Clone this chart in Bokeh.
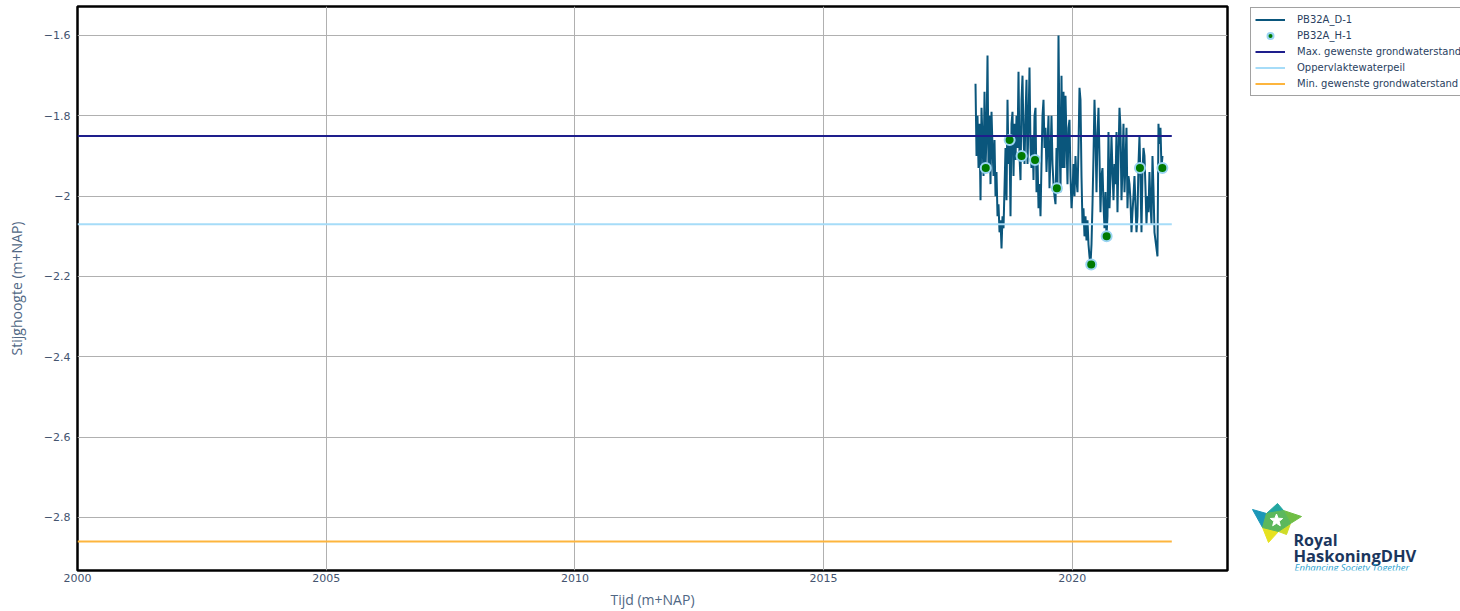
import numpy as np
from bokeh.plotting import figure
from bokeh.models import Range1d, FixedTicker, Legend, LegendItem
from bokeh.layouts import row
from bokeh.embed import file_html
from bokeh.resources import INLINE
from bokeh.core.properties import value

# ---------------- data ----------------
d1_label = "PB32A_D-1"
h1_label = "PB32A_H-1"
max_label = "Max. gewenste grondwaterstand"
opp_label = "Oppervlaktewaterpeil"
min_label = "Min. gewenste grondwaterstand"

# logger series (regular readings, decimal years)
d1_start_year = 2018.054
d1_step_years = 0.0201
d1_values = [
    -1.72, -1.90, -1.80, -1.93, -1.82, -2.01, -1.78, -1.86, -1.95, -1.74,
    -1.93, -1.85, -1.65, -1.94, -1.80, -1.97, -1.79, -1.88, -1.95, -1.86,
    -2.00, -1.94, -2.05, -2.02, -2.09, -2.06, -2.13, -2.05, -2.08, -1.98,
    -1.88, -2.01, -1.76, -1.92, -1.86, -2.05, -1.82, -1.79, -1.95, -1.82,
    -1.91, -1.80, -1.88, -1.69, -1.90, -1.96, -1.76, -1.70, -1.85, -1.92,
    -1.80, -1.71, -1.92, -1.82, -1.68, -1.88, -1.93, -1.85, -1.96, -1.80,
    -1.78, -1.99, -1.90, -2.03, -1.97, -2.05, -1.92, -1.80, -1.76, -1.88,
    -1.83, -1.94, -1.87, -1.80, -1.98, -1.90, -1.80, -1.92, -1.97, -2.00,
    -2.02, -1.88, -1.97, -1.60, -1.85, -1.99, -1.70, -1.93, -1.74, -1.93,
    -1.75, -1.86, -1.97, -1.83, -1.81, -1.95, -2.03, -1.99, -1.92, -2.00,
    -1.90, -1.96, -1.99, -1.88, -1.73, -1.76, -1.95, -2.07, -2.03, -2.10,
    -2.05, -2.11, -2.06, -2.12, -2.15, -2.17, -2.12, -2.02, -1.90, -1.76,
    -1.85, -1.99, -1.85, -1.78, -1.90, -2.04, -1.95, -1.93, -2.02, -2.08,
    -1.99, -2.10, -2.05, -1.84, -2.03, -1.95, -1.85, -1.94, -2.01, -1.92,
    -1.97, -1.84, -2.04, -1.90, -1.78, -1.83, -2.01, -1.93, -1.82, -1.99,
    -1.92, -1.83, -2.03, -1.95, -1.97, -2.01, -2.09, -2.04, -2.00, -1.95,
    -2.02, -2.09, -2.05, -1.92, -1.85, -1.96, -2.09, -1.94, -1.88, -1.90,
    -1.98, -2.07, -2.00, -2.04, -1.94, -2.02, -2.07, -1.90, -1.98, -2.09,
    -2.11, -2.13, -2.15, -1.82, -1.87, -1.83, -1.93, -1.90,
]

# hand measurements
h1_years = [2018.26, 2018.74, 2018.98, 2019.25, 2019.69, 2020.38, 2020.69, 2021.36, 2021.81]
h1_values = [-1.93, -1.86, -1.90, -1.91, -1.98, -2.17, -2.10, -1.93, -1.93]

# reference levels
ref_years = [2000, 2022]
max_level = -1.85
opp_level = -2.07
min_level = -2.86

x_tick_values = [2000, 2005, 2010, 2015, 2020]
x_tick_labels = ["2000", "2005", "2010", "2015", "2020"]
y_tick_values = [-2.8, -2.6, -2.4, -2.2, -2.0, -1.8, -1.6]
y_tick_labels = ["\u22122.8", "\u22122.6", "\u22122.4", "\u22122.2", "\u22122", "\u22121.8", "\u22121.6"]

x_title = "Tijd (m+NAP)"
y_title = "Stijghoogte (m+NAP)"

# ---------------- styles ----------------
D1_COLOR = "#0a567c"
H1_FILL = "#007a00"
H1_LINE = "#9ad4f2"
MAX_COLOR = "#1e1e8c"
OPP_COLOR = "#a6dcf8"
MIN_COLOR = "#fdb53e"
TICK_COLOR = "#44546f"
TITLE_COLOR = "#506784"

d1_years = d1_start_year + np.arange(len(d1_values)) * d1_step_years

BORDER_TOP = 6
BORDER_BOTTOM = 41

# ---------------- main figure ----------------
p = figure(width=1249, height=611,
           x_range=Range1d(2000, 2023.12), y_range=Range1d(-2.932, -1.5278),
           output_backend="svg", toolbar_location=None,
           min_border_left=77, min_border_right=22,
           min_border_top=BORDER_TOP, min_border_bottom=BORDER_BOTTOM)
p.background_fill_color = "white"
p.border_fill_color = "white"
p.outline_line_color = "black"
p.outline_line_width = 2.5

p.line(d1_years, d1_values, line_color=D1_COLOR, line_width=2)
p.scatter(h1_years, h1_values, size=10, fill_color=H1_FILL, line_color=H1_LINE, line_width=2)
p.line(ref_years, [max_level, max_level], line_color=MAX_COLOR, line_width=2)
p.line(ref_years, [opp_level, opp_level], line_color=OPP_COLOR, line_width=2)
p.line(ref_years, [min_level, min_level], line_color=MIN_COLOR, line_width=2)

p.xaxis.ticker = FixedTicker(ticks=x_tick_values)
p.xaxis.major_label_overrides = dict(zip(x_tick_values, x_tick_labels))
p.yaxis.ticker = FixedTicker(ticks=y_tick_values)
p.yaxis.major_label_overrides = dict(zip(y_tick_values, y_tick_labels))
p.xgrid.ticker = FixedTicker(ticks=x_tick_values)
p.ygrid.ticker = FixedTicker(ticks=y_tick_values)
p.grid.grid_line_color = "#b0b0b0"
p.grid.grid_line_width = 1

for ax in (p.xaxis, p.yaxis):
    ax.axis_line_color = None
    ax.major_tick_line_color = None
    ax.minor_tick_line_color = None
    ax.major_tick_out = 0
    ax.major_tick_in = 0
    ax.minor_tick_out = 0
    ax.minor_tick_in = 0
    ax.major_label_text_font = "DejaVu Sans"
    ax.major_label_text_font_size = "11px"
    ax.major_label_text_color = TICK_COLOR
    ax.axis_label_text_font = "Open Sans"
    ax.axis_label_text_font_size = "14px"
    ax.axis_label_text_font_style = "normal"
    ax.axis_label_text_color = TITLE_COLOR

p.xaxis.axis_label = x_title
p.yaxis.axis_label = y_title
p.xaxis.major_label_standoff = 3
p.xaxis.axis_label_standoff = 5
p.yaxis.major_label_standoff = 7
p.yaxis.axis_label_standoff = 15

# ---------------- side panel: legend + logo (page-pixel coordinates) ----------------
s = figure(width=211, height=611, x_range=Range1d(1249, 1460), y_range=Range1d(570, 6),
           output_backend="svg", toolbar_location=None,
           min_border_left=0, min_border_right=0,
           min_border_top=BORDER_TOP, min_border_bottom=BORDER_BOTTOM,
           x_axis_type=None, y_axis_type=None)
s.outline_line_color = None
s.background_fill_color = "white"
s.border_fill_color = "white"

# legend renderers re-use the same data (falls outside this panel's ranges)
l_d1 = s.line(d1_years, d1_values, line_color=D1_COLOR, line_width=2)
l_h1 = s.scatter(h1_years, h1_values, size=10, fill_color=H1_FILL, line_color=H1_LINE, line_width=2)
l_max = s.line(ref_years, [max_level, max_level], line_color=MAX_COLOR, line_width=2)
l_opp = s.line(ref_years, [opp_level, opp_level], line_color=OPP_COLOR, line_width=2)
l_min = s.line(ref_years, [min_level, min_level], line_color=MIN_COLOR, line_width=2)

legend = Legend(items=[LegendItem(label=d1_label, renderers=[l_d1]),
                       LegendItem(label=h1_label, renderers=[l_h1]),
                       LegendItem(label=max_label, renderers=[l_max]),
                       LegendItem(label=opp_label, renderers=[l_opp]),
                       LegendItem(label=min_label, renderers=[l_min])],
                location="top_left", margin=1, padding=4, spacing=1,
                glyph_width=30, glyph_height=15, label_height=15, label_standoff=12,
                label_text_font="DejaVu Sans", label_text_font_size="10px",
                label_text_color="#2a3f5f", border_line_color="#444444",
                border_line_width=1.5, background_fill_color="white", background_fill_alpha=1)
s.add_layout(legend)

# logo star (decorative)
tips = [(1252, 509), (1277, 503), (1301, 516), (1286, 534), (1268, 542)]
inner = [(1266, 513), (1283, 510), (1290, 523), (1278, 531), (1262, 527)]
arm_colors = ["#1b97b8", "#22a6a0", "#6fbe44", "#cfdc28", "#e7e21f"]
arm_xs, arm_ys = [], []
for i in range(5):
    a = inner[i - 1]
    b = tips[i]
    c = inner[i]
    arm_xs.append([a[0], b[0], c[0]])
    arm_ys.append([a[1], b[1], c[1]])
s.patches(arm_xs, arm_ys, fill_color=arm_colors, line_color=arm_colors, line_width=1)
s.patch([q[0] for q in inner], [q[1] for q in inner], fill_color="#5cb85c", line_color="#5cb85c")
ang = np.deg2rad(np.arange(10) * 36 - 90)
rad = np.where(np.arange(10) % 2 == 0, 6.5, 2.8)
s.patch(1276 + rad * np.cos(ang), 520 + rad * np.sin(ang), fill_color="white", line_color="white")

s.text([1293], [539], text=["Royal"], text_font=value("Open Sans"), text_font_style="bold",
       text_font_size="16px", text_color="#1b365d", text_baseline="alphabetic")
s.text([1293], [555], text=["HaskoningDHV"], text_font=value("Open Sans"), text_font_style="bold",
       text_font_size="16.5px", text_color="#1b365d", text_baseline="alphabetic")
s.text([1294], [567], text=["Enhancing Society Together"], text_font=value("Open Sans"),
       text_font_style="italic", text_font_size="9.5px", text_color="#2a9fd0",
       text_baseline="alphabetic")

layout = row(p, s)
open("out.html", "w").write(file_html(layout, INLINE))
